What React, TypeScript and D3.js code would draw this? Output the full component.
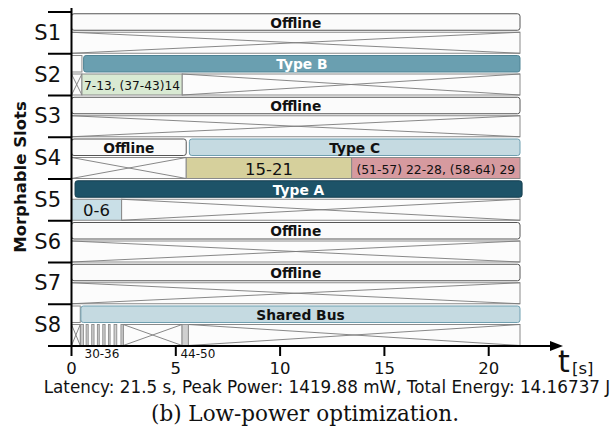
import React from "react";
import * as d3 from "d3";

// slots and time range
const slots = ["S1", "S2", "S3", "S4", "S5", "S6", "S7", "S8"];
const tEnd = 21.5;
const xTicks = [0, 5, 10, 15, 20];

// upper lane: offline slots
const offlineBars = [
  { slot: "S1", t0: 0, t1: 21.5 },
  { slot: "S3", t0: 0, t1: 21.5 },
  { slot: "S4", t0: 0, t1: 5.5 },
  { slot: "S6", t0: 0, t1: 21.5 },
  { slot: "S7", t0: 0, t1: 21.5 },
];

// upper lane: reconfiguration gaps (empty boxes)
const reconfBoxes = [
  { slot: "S2", t0: 0, t1: 0.5 },
  { slot: "S8", t0: 0, t1: 0.42 },
];

// upper lane: accelerator types
const typeBars = [
  { slot: "S2", t0: 0.58, t1: 21.5, label: "Type B", kind: "B" },
  { slot: "S4", t0: 5.65, t1: 21.5, label: "Type C", kind: "C" },
  { slot: "S5", t0: 0.17, t1: 21.6, label: "Type A", kind: "A" },
  { slot: "S8", t0: 0.45, t1: 21.5, label: "Shared Bus", kind: "bus" },
];

// lower lane: idle (crossed) boxes
const idleBoxes = [
  { slot: "S1", t0: 0, t1: 21.5 },
  { slot: "S2", t0: 0, t1: 0.5 },
  { slot: "S2", t0: 5.3, t1: 21.5 },
  { slot: "S3", t0: 0, t1: 21.5 },
  { slot: "S4", t0: 0, t1: 5.5 },
  { slot: "S5", t0: 2.4, t1: 21.5 },
  { slot: "S6", t0: 0, t1: 21.5 },
  { slot: "S7", t0: 0, t1: 21.5 },
  { slot: "S8", t0: 0, t1: 0.42 },
  { slot: "S8", t0: 2.48, t1: 5.3 },
  { slot: "S8", t0: 5.6, t1: 21.5 },
];

// lower lane: task groups
const taskBoxes = [
  { slot: "S2", t0: 0.5, t1: 5.3, label: "7-13, (37-43)14", color: "#d9ead3", size: 12.2 },
  { slot: "S4", t0: 5.5, t1: 13.43, label: "15-21", color: "#d6d09c", size: 16.5 },
  { slot: "S4", t0: 13.43, t1: 21.5, label: "(51-57) 22-28, (58-64) 29", color: "#d69a9f", size: 12.4 },
  { slot: "S5", t0: 0, t1: 2.4, label: "0-6", color: "#c9dfe7", size: 16.5 },
];

// shared bus transfers (S8 lower lane)
const busStarts = [0.44, 0.7, 0.97, 1.24, 1.5, 1.77, 2.04, 2.37, 5.3];
const busEnds = [0.57, 0.8, 1.08, 1.33, 1.61, 1.85, 2.17, 2.48, 5.6];
const busLabels = [
  { label: "30-36", t: 1.46, anchor: "middle" },
  { label: "44-50", t: 5.22, anchor: "start" },
];

const typeColors: Record<string, { fill: string; stroke: string; text: string }> = {
  A: { fill: "#1d5368", stroke: "#173f4f", text: "#ffffff" },
  B: { fill: "#6a9fb0", stroke: "#4f8394", text: "#ffffff" },
  C: { fill: "#c5dae1", stroke: "#6f9fb0", text: "#111111" },
  bus: { fill: "#c5dae1", stroke: "#6f9fb0", text: "#111111" },
};

const FONT = "DejaVu Sans";

export default function App() {
  const width = 616;
  const height = 440;
  const x = d3.scaleLinear().domain([0, tEnd]).range([71.5, 520]);
  const y = d3.scaleBand<string>().domain(slots).range([12, 346]);
  const bw = y.bandwidth();
  const up = (s: string) => (y(s) as number) + 1.75;
  const upH = 16.5;
  const lo = (s: string) => (y(s) as number) + 20.25;
  const loH = 21;
  const axisY = 346;

  return (
    <svg width={width} height={height} style={{ position: "absolute", left: 0, top: 0, background: "#fff" }}>
      {/* idle crossed boxes */}
      {idleBoxes.map((d, i) => {
        const x0 = x(d.t0), x1 = x(d.t1), y0 = lo(d.slot), y1 = y0 + loH;
        return (
          <g key={"idle" + i}>
            <rect x={x0} y={y0} width={x1 - x0} height={loH} fill="#fcfcfc" stroke="#8a8a8a" strokeWidth={1} />
            <line x1={x0} y1={y0} x2={x1} y2={y1} stroke="#7a7a7a" strokeWidth={0.9} />
            <line x1={x0} y1={y1} x2={x1} y2={y0} stroke="#7a7a7a" strokeWidth={0.9} />
          </g>
        );
      })}

      {/* tasks */}
      {taskBoxes.map((d, i) => {
        const x0 = x(d.t0), x1 = x(d.t1), y0 = lo(d.slot);
        return (
          <g key={"task" + i}>
            <rect x={x0} y={y0} width={x1 - x0} height={loH} fill={d.color} stroke="#8a8a8a" strokeWidth={1} />
            <text x={(x0 + x1) / 2} y={y0 + loH / 2 + 1} textAnchor="middle" dominantBaseline="central"
              fontFamily={FONT} fontSize={d.size} fill="#111">{d.label}</text>
          </g>
        );
      })}

      {/* bus transfers */}
      {busStarts.map((t, i) => (
        <rect key={"bus" + i} x={x(t)} y={lo("S8")} width={x(busEnds[i]) - x(t)} height={loH}
          fill="#d0d0d0" stroke="#8a8a8a" strokeWidth={0.9} />
      ))}

      {/* reconfiguration boxes */}
      {reconfBoxes.map((d, i) => (
        <rect key={"rc" + i} x={x(d.t0)} y={up(d.slot)} width={x(d.t1) - x(d.t0)} height={upH}
          fill="#fdfdfd" stroke="#8a8a8a" strokeWidth={1} />
      ))}

      {/* offline bars */}
      {offlineBars.map((d, i) => {
        const x0 = x(d.t0), x1 = x(d.t1), y0 = up(d.slot);
        return (
          <g key={"off" + i}>
            <rect x={x0} y={y0} width={x1 - x0} height={upH} rx={2.5} fill="#fbfbfb" stroke="#555" strokeWidth={1} />
            <text x={(x0 + x1) / 2} y={y0 + upH / 2 + 0.5} textAnchor="middle" dominantBaseline="central"
              fontFamily={FONT} fontWeight="bold" fontSize={13.8} fill="#111">Offline</text>
          </g>
        );
      })}

      {/* type bars */}
      {typeBars.map((d, i) => {
        const c = typeColors[d.kind];
        const x0 = x(d.t0), x1 = x(d.t1), y0 = up(d.slot);
        return (
          <g key={"type" + i}>
            <rect x={x0} y={y0} width={x1 - x0} height={upH} rx={2.5} fill={c.fill} stroke={c.stroke} strokeWidth={1} />
            <text x={(x0 + x1) / 2} y={y0 + upH / 2 + 0.5} textAnchor="middle" dominantBaseline="central"
              fontFamily={FONT} fontWeight="bold" fontSize={13.8} fill={c.text}>{d.label}</text>
          </g>
        );
      })}

      {/* y axis */}
      <line x1={71.5} y1={8} x2={71.5} y2={axisY} stroke="#000" strokeWidth={2} />
      {slots.map((s) => (
        <g key={s}>
          <line x1={48} x2={72} y1={y(s) as number} y2={y(s) as number} stroke="#000" strokeWidth={2} />
          <text x={61} y={(y(s) as number) + bw / 2} textAnchor="end" dominantBaseline="central"
            fontFamily={FONT} fontSize={21} fill="#111">{s}</text>
        </g>
      ))}
      <line x1={48} x2={72} y1={axisY} y2={axisY} stroke="#000" strokeWidth={2} />
      <text transform="translate(20,177) rotate(-90)" textAnchor="middle" dominantBaseline="central"
        fontFamily={FONT} fontWeight="bold" fontSize={16.5} fill="#111">Morphable Slots</text>

      {/* x axis */}
      <line x1={70.5} y1={axisY} x2={552} y2={axisY} stroke="#000" strokeWidth={2} />
      <path d={`M550,${axisY - 5} L563,${axisY} L550,${axisY + 5} Z`} fill="#000" />
      {xTicks.map((t) => (
        <g key={t}>
          <line x1={x(t)} x2={x(t)} y1={axisY} y2={axisY + 10} stroke="#000" strokeWidth={2} />
          <text x={x(t)} y={374} textAnchor="middle" fontFamily={FONT} fontSize={16.5} fill="#111">{t}</text>
        </g>
      ))}
      {busLabels.map((d) => (
        <text key={d.label} x={x(d.t)} y={357.5} textAnchor={d.anchor as any} fontFamily={FONT} fontSize={12} fill="#111">
          {d.label}
        </text>
      ))}
      <text x={558} y={372} fontFamily={FONT} fontSize={30} fill="#111">t</text>
      <text x={572} y={374} fontFamily={FONT} fontSize={16.5} fill="#111">[s]</text>

      {/* summary and caption */}
      <text x={327} y={393} textAnchor="middle" fontFamily={FONT} fontSize={16.8} fill="#111">
        Latency: 21.5 s, Peak Power: 1419.88 mW, Total Energy: 14.16737 J
      </text>
      <text x={305} y={421} textAnchor="middle" fontFamily="DejaVu Serif" fontSize={21.5} fill="#111">
        (b) Low-power optimization.
      </text>
    </svg>
  );
}
